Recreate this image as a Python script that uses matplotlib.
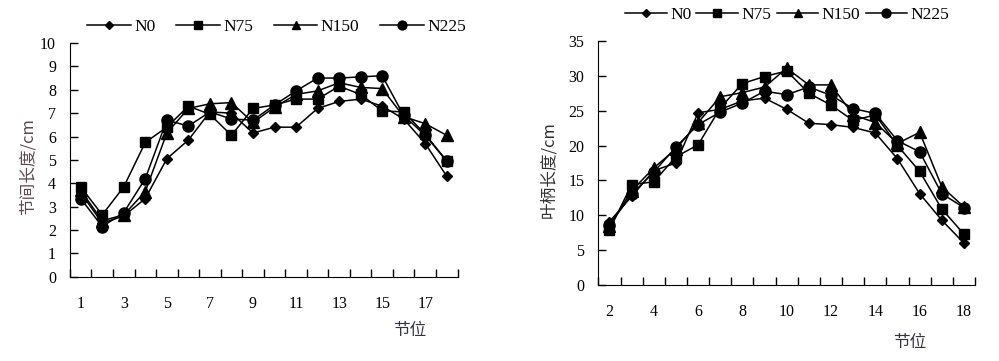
import matplotlib
matplotlib.use("Agg")
import matplotlib.pyplot as plt
from matplotlib.ticker import FixedLocator, MultipleLocator

plt.rcParams['font.family'] = ['Liberation Serif', 'Noto Sans CJK SC']

# left panel: internode length by node position
nodes_l = list(range(1, 19))
len_n0 = [3.6, 2.3, 2.6, 3.35, 5.05, 5.85, 7.05, 7.0, 6.15, 6.4, 6.4, 7.2, 7.5, 7.6, 7.3, 6.75, 5.7, 4.3]
len_n75 = [3.85, 2.65, 3.85, 5.75, 6.4, 7.3, 6.95, 6.05, 7.2, 7.35, 7.6, 7.6, 8.15, 7.8, 7.1, 7.05, 6.1, 4.95]
len_n150 = [3.7, 2.4, 2.65, 3.65, 6.15, 7.2, 7.4, 7.45, 6.6, 7.25, 7.8, 7.95, 8.3, 8.1, 8.05, 6.85, 6.55, 6.05]
len_n225 = [3.35, 2.15, 2.75, 4.2, 6.7, 6.45, 7.05, 6.75, 6.7, 7.35, 7.95, 8.5, 8.5, 8.55, 8.6, 6.9, 6.05, 4.95]

# right panel: petiole length by node position
nodes_r = list(range(2, 19))
pet_n0 = [9.1, 12.7, 16.4, 17.5, 24.7, 25.2, 26.4, 26.8, 25.2, 23.2, 23.0, 22.6, 21.8, 18.1, 13.1, 9.3, 6.0]
pet_n75 = [7.9, 14.4, 14.8, 18.4, 20.1, 25.4, 28.9, 29.9, 30.7, 27.5, 25.8, 23.6, 24.4, 20.0, 16.3, 10.9, 7.3]
pet_n150 = [8.5, 13.5, 16.8, 19.5, 23.3, 27.0, 27.6, 28.4, 31.1, 28.7, 28.7, 24.4, 23.3, 20.3, 21.9, 14.1, 11.2]
pet_n225 = [8.6, 13.0, 16.2, 19.8, 23.0, 24.8, 26.1, 27.8, 27.3, 28.4, 27.2, 25.3, 24.6, 20.7, 19.1, 13.1, 11.1]

labels = ['N0', 'N75', 'N150', 'N225']
markers = [('D', 5.5), ('s', 7.5), ('^', 8), ('o', 8)]

fig = plt.figure(figsize=(9.99, 3.61), dpi=100)
ax1 = fig.add_axes([0.070, 0.233, 0.388, 0.648])
ax2 = fig.add_axes([0.599, 0.2105, 0.377, 0.676])


def draw(ax, x, series):
    handles = []
    for ys, lab, (m, ms) in zip(series, labels, markers):
        h, = ax.plot(x, ys, color='black', lw=1.1, marker=m, markersize=ms,
                     label=lab, clip_on=False)
        handles.append(h)
    ax.set_xlim(x[0] - 0.5, x[-1] + 0.5)
    ax.spines['top'].set_visible(False)
    ax.spines['right'].set_visible(False)
    ax.xaxis.set_minor_locator(FixedLocator([v - 0.5 for v in x] + [x[-1] + 0.5]))
    ax.tick_params(axis='x', which='major', length=0, pad=14, labelsize=11.5)
    ax.tick_params(axis='x', which='minor', direction='in', length=6, width=1)
    ax.tick_params(axis='y', direction='in', length=6, width=1, pad=10, labelsize=11.5)
    return handles


h1 = draw(ax1, nodes_l, [len_n0, len_n75, len_n150, len_n225])
ax1.set_ylim(0, 10)
ax1.yaxis.set_major_locator(MultipleLocator(1))
ax1.set_xticks(nodes_l[::2])

h2 = draw(ax2, nodes_r, [pet_n0, pet_n75, pet_n150, pet_n225])
ax2.set_ylim(0, 35)
ax2.yaxis.set_major_locator(MultipleLocator(5))
ax2.set_xticks(nodes_r[::2])

fig.legend(handles=h1, loc='center', bbox_to_anchor=(0.277, 0.925), ncol=4,
           frameon=False, fontsize=12.5, handlelength=2.5, handletextpad=0.2,
           columnspacing=1.2, markerscale=0.8)
fig.legend(handles=h2, loc='center', bbox_to_anchor=(0.788, 0.958), ncol=4,
           frameon=False, fontsize=12.5, handlelength=2.4, handletextpad=0.2,
           columnspacing=0.3, markerscale=0.8)

cjk = ['Noto Sans CJK SC', 'DejaVu Sans']
fig.text(0.028, 1 - 167 / 361, '节间长度/cm', rotation=90, ha='center', va='center',
         fontsize=12, color='#5a4a50', family=cjk)
fig.text(0.549, 1 - 170 / 361, '叶柄长度/cm', rotation=90, ha='center', va='center',
         fontsize=12, color='#333333', family=cjk)
fig.text(410 / 999, 1 - 330 / 361, '节位', ha='center', va='center',
         fontsize=12, color='#333344', family=cjk)
fig.text(910 / 999, 1 - 342 / 361, '节位', ha='center', va='center',
         fontsize=12, color='#333344', family=cjk)

fig.savefig('out.png', dpi=100)
